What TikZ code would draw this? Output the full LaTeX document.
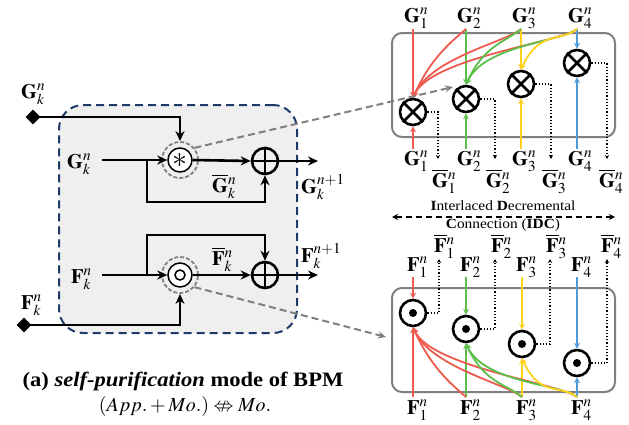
\documentclass[tikz,border=0pt]{standalone}
\usepackage{mathptmx}
\usepackage{amssymb}
\usepackage{fontspec}
\setmainfont{Liberation Serif}[FakeStretch=1.1]
\usetikzlibrary{arrows.meta,shapes.geometric}
\definecolor{cred}{HTML}{EE5A4E}
\definecolor{cgreen}{HTML}{5CBF4A}
\definecolor{cyel}{HTML}{FFD21F}
\definecolor{cblue}{HTML}{4F9AD8}
\definecolor{navy}{HTML}{1F3A68}
\definecolor{boxgray}{HTML}{808080}
\definecolor{fillg}{HTML}{EFEFEF}
\begin{document}
\begin{tikzpicture}[x=1pt,y=-1pt,
 lab/.style={anchor=base west, inner sep=0, font=\fontsize{20.5}{24}\selectfont},
 blk/.style={line width=2.6pt},
 barrow/.style={-{Stealth[length=10pt,width=9pt]}},
 carrow/.style={line width=1.8pt,-{Stealth[length=6pt,width=6pt]}},
 otim/.style={circle, draw, line width=2.6pt, minimum size=26pt, inner sep=0},
 dotarr/.style={dotted, line width=1.2pt, -{Stealth[length=4pt,width=4pt]}},
 gdash/.style={boxgray, dashed, dash pattern=on 7pt off 4pt, line width=2pt, -{Stealth[length=8pt,width=7pt]}},
 rbox/.style={draw=boxgray, line width=2pt, rounded corners=10pt, inner sep=0},
 dmd/.style={diamond, fill=black, inner sep=0, minimum size=15pt}]
\useasboundingbox (0,0) rectangle (629,424);

% ---------------- left panel ----------------
\node[draw=navy, fill=fillg, dashed, dash pattern=on 8pt off 5pt, line width=2pt, rounded corners=24pt,
  minimum width=238pt, minimum height=228pt, inner sep=0] (bpm) at (178,219) {};

\node[dmd] (dG) at (33,117) {};
\node[dmd] (dF) at (24,325) {};
\node[lab] (lGt) at (21,98) {$\mathbf{G}^n_k$};
\node[lab] (lFb) at (21,309) {$\mathbf{F}^n_k$};
\node[lab] (lG) at (67,168) {$\mathbf{G}^n_k$};
\node[lab] (lF) at (71,283) {$\mathbf{F}^n_k$};
\node[lab] (lGbar) at (212,192) {$\overline{\mathbf{G}}{}^n_k$};
\node[lab] (lFbar) at (212,265) {$\overline{\mathbf{F}}{}^n_k$};
\node[lab] (lGo) at (301,193) {$\mathbf{G}^{n+1}_k$};
\node[lab] (lFo) at (301,262) {$\mathbf{F}^{n+1}_k$};

\node[circle, draw=boxgray, dashed, dash pattern=on 4pt off 2pt, line width=1.8pt, minimum size=36pt, inner sep=0] (ringG) at (180,160) {};
\node[circle, draw, fill=white, line width=1.5pt, minimum size=24pt, inner sep=0] (ast) at (180,160) {};
\node[font=\fontsize{30}{30}\selectfont, inner sep=0] (astsym) at (180,161) {\boldmath$\ast$};
\node[circle, draw=boxgray, dashed, dash pattern=on 4pt off 2pt, line width=1.8pt, minimum size=36pt, inner sep=0] (ringF) at (180,275) {};
\node[circle, draw, fill=white, line width=1.5pt, minimum size=24pt, inner sep=0] (odot) at (180,275) {};
\draw[line width=1.5pt] (odot) circle (5pt);

\node[otim] (plG) at (265,161) {};
\draw[line width=2.6pt] (plG.north) -- (plG.south) (plG.west) -- (plG.east);
\node[otim] (plF) at (265,275) {};
\draw[line width=2.6pt] (plF.north) -- (plF.south) (plF.west) -- (plF.east);

\coordinate (gin) at (102,160);
\coordinate (fin) at (102,275);
\coordinate (brG) at (147,160);
\coordinate (brF) at (147,275);
\coordinate (gout) at (318,161);
\coordinate (fout) at (318,275);

\draw[blk,barrow] (dG.center) -| (ringG.north);
\draw[blk,barrow] (dF.center) -| (ringF.south);
\draw[blk,barrow] (gin) -- (ast.west);
\draw[blk,barrow] (fin) -- (odot.west);
\draw[blk,barrow] (ast.east) -- (plG.west);
\draw[blk,barrow] (odot.east) -- (plF.west);
\draw[blk,barrow] (brG) -- ++(0,42) -| (plG.south);
\draw[blk,barrow] (brF) -- ++(0,-40) -| (plF.north);
\draw[blk,barrow] (plG.east) -- (gout);
\draw[blk,barrow] (plF.east) -- (fout);

% ---------------- top right panel ----------------
\node[rbox, minimum width=223pt, minimum height=104pt] (boxT) at (503.5,85) {};
\foreach \i/\x/\y/\c in {1/413/112/cred, 2/466/99/cgreen, 3/521/84/cyel, 4/577/63/cblue} {
  \node[otim] (c\i) at (\x,\y) {};
  \draw[line width=2.6pt] (c\i.north west) -- (c\i.south east) (c\i.north east) -- (c\i.south west);
  \node[lab] (gt\i) at (\x-9,22) {$\mathbf{G}^n_{\i}$};
  \node[lab] (gb\i) at (\x-9,165) {$\mathbf{G}^n_{\i}$};
  \coordinate (gts\i) at (\x,29);
  \coordinate (gbs\i) at (\x,149);
  \draw[carrow,\c] (gts\i) -- (c\i.north);
  \draw[carrow,\c] (gbs\i) -- (c\i.south);
}
\foreach \s/\t/\c in {2/1/cred,3/1/cred,4/1/cred,3/2/cgreen,4/2/cgreen,4/3/cyel}
  \draw[carrow,\c] (gts\s) .. controls +(-15,13) and +(18,-40) .. (c\t.north);
\foreach \i/\dx/\bx in {1/438/432,2/495/486,3/551/542,4/607/599} {
  \coordinate (gbt\i) at (\dx,159);
  \draw[dotarr] (c\i.east) -| (gbt\i);
  \node[lab] (gbar\i) at (\bx,187) {$\overline{\mathbf{G}}{}^n_{\i}$};
}

% ---------------- IDC ----------------
\node[font=\fontsize{14}{16}\selectfont] (idc1) at (503,206) {\textbf{I}nterlaced \textbf{D}ecremental};
\node[font=\fontsize{14}{16}\selectfont] (idc2) at (503,225) {\textbf{C}onnection (\textbf{IDC})};
\coordinate (idcl) at (392,217);
\coordinate (idcr) at (615,217);
\draw[dashed, dash pattern=on 6pt off 4pt, line width=1.5pt, {Stealth[length=6pt,width=6pt]}-{Stealth[length=6pt,width=6pt]}] (idcl) -- (idcr);

% ---------------- bottom right panel ----------------
\node[rbox, minimum width=223pt, minimum height=104pt] (boxB) at (503.5,340) {};
\foreach \i/\x/\y/\c in {1/413/313/cred, 2/466/329/cgreen, 3/522/344/cyel, 4/577/363/cblue} {
  \node[otim] (d\i) at (\x,\y) {};
  \fill (d\i) circle (4pt);
  \node[lab] (ft\i) at (\x-6,271) {$\mathbf{F}^n_{\i}$};
  \node[lab] (fb\i) at (\x-6,414) {$\mathbf{F}^n_{\i}$};
  \coordinate (fts\i) at (\x,277);
  \coordinate (fbs\i) at (\x,397);
  \draw[carrow,\c] (fts\i) -- (d\i.north);
  \draw[carrow,\c] (fbs\i) -- (d\i.south);
}
\foreach \s/\t/\c in {2/1/cred,3/1/cred,4/1/cred,3/2/cgreen,4/2/cgreen,4/3/cyel}
  \draw[carrow,\c] (fbs\s) .. controls +(-15,-13) and +(18,40) .. (d\t.south);
\foreach \i/\dx/\bx in {1/439/434,2/495/491,3/550/546,4/607/601} {
  \coordinate (fbt\i) at (\dx,259);
  \draw[dotarr] (d\i.east) -| (fbt\i);
  \node[lab] (fbar\i) at (\bx,252) {$\overline{\mathbf{F}}{}^n_{\i}$};
}

% ---------------- zoom connectors ----------------
\coordinate (zG) at (453,87);
\coordinate (zF) at (386,337);
\draw[gdash] (ringG.40) -- (zG);
\draw[gdash] (ringF.-40) -- (zF);

% ---------------- caption ----------------
\node[font=\fontsize{20.5}{24}\selectfont\bfseries] (cap1) at (183,381) {(a) \textit{self-purification} mode of BPM};
\node[font=\fontsize{20}{22}\selectfont] (cap2) at (185,406) {$(App.+Mo.)\nLeftrightarrow Mo.$};
\end{tikzpicture}
\end{document}
